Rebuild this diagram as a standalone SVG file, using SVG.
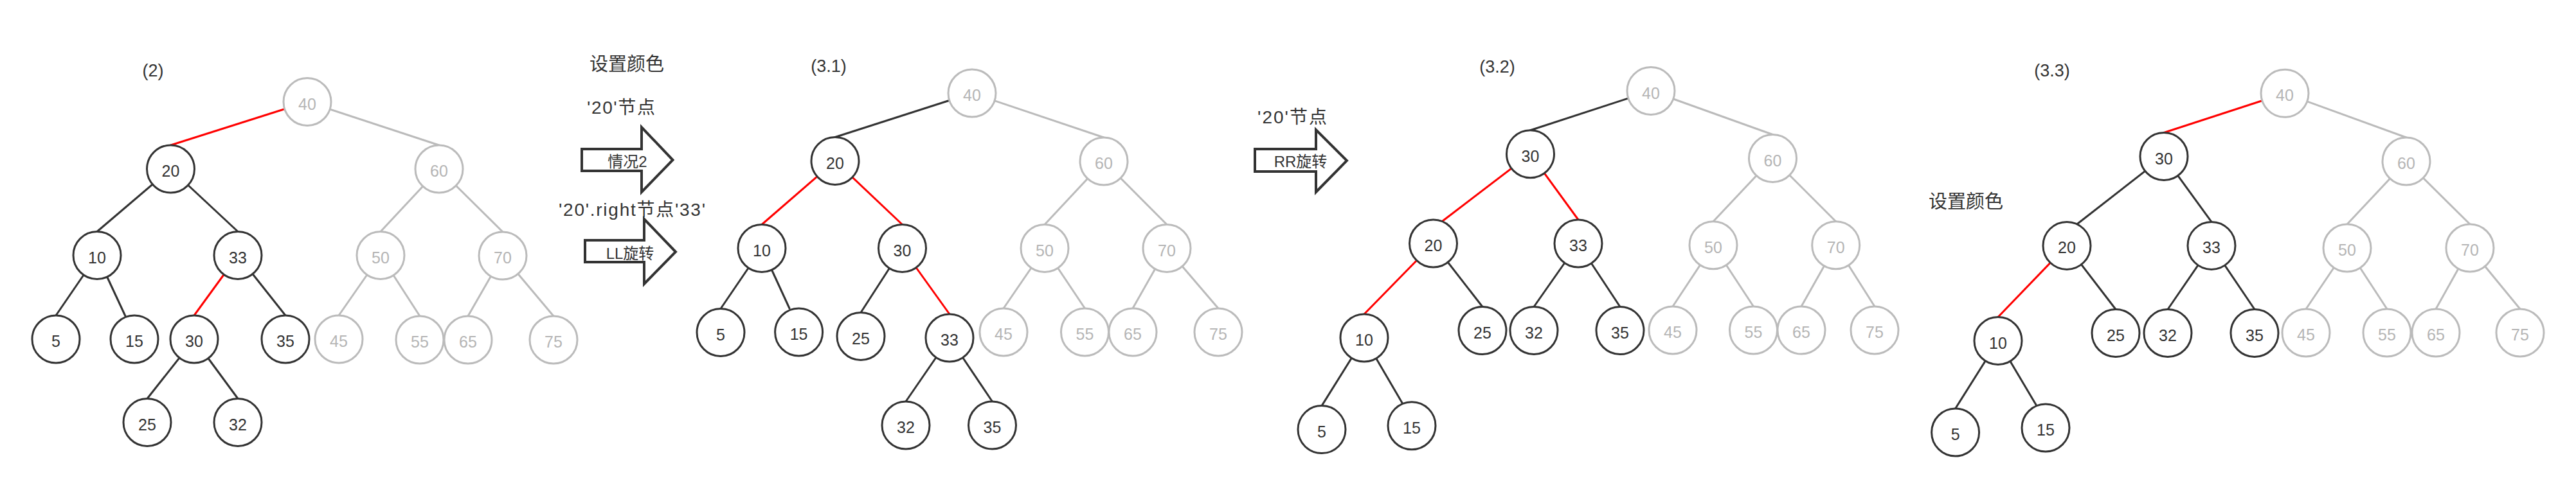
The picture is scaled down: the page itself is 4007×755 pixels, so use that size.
<svg xmlns="http://www.w3.org/2000/svg" width="4007" height="755" viewBox="0 0 4007 755">
<style>
.n circle{fill:#fff;stroke-width:3}
.d circle{stroke:#333}
.g circle{stroke:#bbb}
.n text{font-family:"Liberation Sans",Arial,sans-serif;font-size:25px;text-anchor:middle}
.d text{fill:#333}
.g text{fill:#b5b5b5}
#edges line{stroke-width:3;stroke-linecap:round}
.ed{stroke:#333}.eg{stroke:#bbb}.er{stroke:#f00}
.lbl{font-family:"Liberation Sans","Noto Sans CJK SC",sans-serif;fill:#333;text-anchor:middle}
.arrow{fill:#fff;stroke:#333;stroke-width:4;stroke-linejoin:miter}
</style>
<rect width="4007" height="755" fill="#fff"/>
<g id="arrows">
<polygon id="arrow-1" class="arrow" points="905,232 998,232 998,198 1046.5,249 998,299 998,266 905,266"/>
<polygon id="arrow-2" class="arrow" points="910,374 1002,374 1002,341 1051,392 1002,442 1002,408 910,408"/>
<polygon id="arrow-3" class="arrow" points="1952,232 2047,232 2047,202 2095,250 2047,299 2047,267 1952,267"/>
</g>
<g id="labels">
<text class="lbl" x="238" y="119" font-size="27">(2)</text>
<text class="lbl" x="1289" y="112" font-size="27">(3.1)</text>
<text class="lbl" x="2329" y="113" font-size="27">(3.2)</text>
<text class="lbl" x="3192" y="119" font-size="27">(3.3)</text>
<text class="lbl" x="975" y="110" font-size="29">设置颜色</text>
<text class="lbl" x="966" y="177" font-size="28" textLength="106" lengthAdjust="spacing">'20'节点</text>
<text class="lbl" x="976" y="260" font-size="24">情况2</text>
<text class="lbl" x="983" y="336" font-size="28" textLength="228" lengthAdjust="spacing">'20'.right节点'33'</text>
<text class="lbl" x="980" y="403" font-size="24">LL旋转</text>
<text class="lbl" x="2010" y="192" font-size="28" textLength="108" lengthAdjust="spacing">'20'节点</text>
<text class="lbl" x="2023" y="260" font-size="24">RR旋转</text>
<text class="lbl" x="3058" y="324" font-size="29">设置颜色</text>
</g>
<g id="edges">
<!-- tree (2) -->
<line class="er" x1="478" y1="158.5" x2="265.5" y2="226"/>
<line class="eg" x1="478" y1="158.5" x2="683" y2="226"/>
<line class="ed" x1="265.5" y1="263" x2="151" y2="360.5"/>
<line class="ed" x1="265.5" y1="263" x2="370" y2="360.5"/>
<line class="ed" x1="151" y1="397.5" x2="87" y2="491"/>
<line class="ed" x1="151" y1="397.5" x2="195" y2="492"/>
<line class="er" x1="370" y1="397.5" x2="302" y2="491"/>
<line class="ed" x1="370" y1="397.5" x2="444" y2="491"/>
<line class="ed" x1="302" y1="528" x2="229" y2="620.5"/>
<line class="ed" x1="302" y1="528" x2="370" y2="620.5"/>
<line class="eg" x1="683" y1="263" x2="592" y2="360.5"/>
<line class="eg" x1="683" y1="263" x2="782" y2="361"/>
<line class="eg" x1="592" y1="397.5" x2="527" y2="491"/>
<line class="eg" x1="592" y1="397.5" x2="653" y2="492"/>
<line class="eg" x1="782" y1="398" x2="728" y2="492"/>
<line class="eg" x1="782" y1="398" x2="861" y2="492"/>
<!-- tree (3.1) -->
<line class="ed" x1="1512" y1="145" x2="1299" y2="213.5"/>
<line class="eg" x1="1512" y1="145" x2="1717" y2="214"/>
<line class="er" x1="1299" y1="250.5" x2="1185" y2="349.5"/>
<line class="er" x1="1299" y1="250.5" x2="1403.5" y2="349.5"/>
<line class="ed" x1="1185" y1="386.5" x2="1121" y2="480.5"/>
<line class="ed" x1="1185" y1="386.5" x2="1228" y2="480"/>
<line class="ed" x1="1403.5" y1="386.5" x2="1339" y2="486.5"/>
<line class="er" x1="1403.5" y1="386.5" x2="1477" y2="489"/>
<line class="ed" x1="1477" y1="526" x2="1409" y2="625"/>
<line class="ed" x1="1477" y1="526" x2="1543.5" y2="625"/>
<line class="eg" x1="1717" y1="251" x2="1625" y2="349.5"/>
<line class="eg" x1="1717" y1="251" x2="1815" y2="349.5"/>
<line class="eg" x1="1625" y1="386.5" x2="1561" y2="480"/>
<line class="eg" x1="1625" y1="386.5" x2="1687.5" y2="480"/>
<line class="eg" x1="1815" y1="386.5" x2="1762" y2="480"/>
<line class="eg" x1="1815" y1="386.5" x2="1895" y2="480"/>
<!-- tree (3.2) -->
<line class="ed" x1="2568" y1="141.5" x2="2380.5" y2="202.7"/>
<line class="eg" x1="2568" y1="141.5" x2="2757.5" y2="209.5"/>
<line class="er" x1="2380.5" y1="239.7" x2="2244" y2="344"/>
<line class="er" x1="2380.5" y1="239.7" x2="2455" y2="342"/>
<line class="er" x1="2229.5" y1="379" x2="2122" y2="489"/>
<line class="ed" x1="2229.5" y1="379" x2="2306" y2="477.5"/>
<line class="ed" x1="2455" y1="379" x2="2386" y2="477.5"/>
<line class="ed" x1="2455" y1="379" x2="2520" y2="477.5"/>
<line class="ed" x1="2122" y1="526" x2="2056" y2="631.6"/>
<line class="ed" x1="2122" y1="526" x2="2181" y2="627"/>
<line class="eg" x1="2757.5" y1="246.5" x2="2665" y2="344.7"/>
<line class="eg" x1="2757.5" y1="246.5" x2="2855.7" y2="344.7"/>
<line class="eg" x1="2665" y1="381.7" x2="2602" y2="477"/>
<line class="eg" x1="2665" y1="381.7" x2="2727.5" y2="477"/>
<line class="eg" x1="2855.7" y1="381.7" x2="2802" y2="477"/>
<line class="eg" x1="2855.7" y1="381.7" x2="2916" y2="477"/>
<!-- tree (3.3) -->
<line class="er" x1="3554" y1="145.3" x2="3366" y2="206.5"/>
<line class="eg" x1="3554" y1="145.3" x2="3743" y2="214"/>
<line class="ed" x1="3366" y1="243.5" x2="3232" y2="348"/>
<line class="ed" x1="3366" y1="243.5" x2="3440" y2="345.4"/>
<line class="er" x1="3215" y1="382.4" x2="3108" y2="493.5"/>
<line class="ed" x1="3215" y1="382.4" x2="3291" y2="481.5"/>
<line class="ed" x1="3440" y1="382.4" x2="3372" y2="481.5"/>
<line class="ed" x1="3440" y1="382.4" x2="3507" y2="481.5"/>
<line class="ed" x1="3108" y1="530.5" x2="3041.6" y2="636"/>
<line class="ed" x1="3108" y1="530.5" x2="3167" y2="630"/>
<line class="eg" x1="3743" y1="251" x2="3651" y2="349"/>
<line class="eg" x1="3743" y1="251" x2="3842" y2="349"/>
<line class="eg" x1="3651" y1="386" x2="3587" y2="481"/>
<line class="eg" x1="3651" y1="386" x2="3713" y2="481"/>
<line class="eg" x1="3842" y1="386" x2="3789" y2="481"/>
<line class="eg" x1="3842" y1="386" x2="3920" y2="481"/>
</g>
<!-- tree (2) nodes -->
<g id="t2-40" class="n g"><circle cx="478" cy="158.5" r="37"/><text x="478" y="170.5">40</text></g>
<g id="t2-20" class="n d"><circle cx="265.5" cy="263" r="37"/><text x="265.5" y="275">20</text></g>
<g id="t2-60" class="n g"><circle cx="683" cy="263" r="37"/><text x="683" y="275">60</text></g>
<g id="t2-10" class="n d"><circle cx="151" cy="397.5" r="37"/><text x="151" y="409.5">10</text></g>
<g id="t2-33" class="n d"><circle cx="370" cy="397.5" r="37"/><text x="370" y="409.5">33</text></g>
<g id="t2-50" class="n g"><circle cx="592" cy="397.5" r="37"/><text x="592" y="409.5">50</text></g>
<g id="t2-70" class="n g"><circle cx="782" cy="398" r="37"/><text x="782" y="410">70</text></g>
<g id="t2-5" class="n d"><circle cx="87" cy="528" r="37"/><text x="87" y="540">5</text></g>
<g id="t2-15" class="n d"><circle cx="209" cy="528" r="37"/><text x="209" y="540">15</text></g>
<g id="t2-30" class="n d"><circle cx="302" cy="528" r="37"/><text x="302" y="540">30</text></g>
<g id="t2-35" class="n d"><circle cx="444" cy="528" r="37"/><text x="444" y="540">35</text></g>
<g id="t2-45" class="n g"><circle cx="527" cy="528" r="37"/><text x="527" y="540">45</text></g>
<g id="t2-55" class="n g"><circle cx="653" cy="529" r="37"/><text x="653" y="541">55</text></g>
<g id="t2-65" class="n g"><circle cx="728" cy="529" r="37"/><text x="728" y="541">65</text></g>
<g id="t2-75" class="n g"><circle cx="861" cy="529" r="37"/><text x="861" y="541">75</text></g>
<g id="t2-25" class="n d"><circle cx="229" cy="657.5" r="37"/><text x="229" y="669.5">25</text></g>
<g id="t2-32" class="n d"><circle cx="370" cy="657.5" r="37"/><text x="370" y="669.5">32</text></g>
<!-- tree (3.1) nodes -->
<g id="t31-40" class="n g"><circle cx="1512" cy="145" r="37"/><text x="1512" y="157">40</text></g>
<g id="t31-20" class="n d"><circle cx="1299" cy="250.5" r="37"/><text x="1299" y="262.5">20</text></g>
<g id="t31-60" class="n g"><circle cx="1717" cy="251" r="37"/><text x="1717" y="263">60</text></g>
<g id="t31-10" class="n d"><circle cx="1185" cy="386.5" r="37"/><text x="1185" y="398.5">10</text></g>
<g id="t31-30" class="n d"><circle cx="1403.5" cy="386.5" r="37"/><text x="1403.5" y="398.5">30</text></g>
<g id="t31-50" class="n g"><circle cx="1625" cy="386.5" r="37"/><text x="1625" y="398.5">50</text></g>
<g id="t31-70" class="n g"><circle cx="1815" cy="386.5" r="37"/><text x="1815" y="398.5">70</text></g>
<g id="t31-5" class="n d"><circle cx="1121" cy="517.5" r="37"/><text x="1121" y="529.5">5</text></g>
<g id="t31-15" class="n d"><circle cx="1242.6" cy="517" r="37"/><text x="1242.6" y="529">15</text></g>
<g id="t31-25" class="n d"><circle cx="1339" cy="523.5" r="37"/><text x="1339" y="535.5">25</text></g>
<g id="t31-33" class="n d"><circle cx="1477" cy="526" r="37"/><text x="1477" y="538">33</text></g>
<g id="t31-45" class="n g"><circle cx="1561" cy="517" r="37"/><text x="1561" y="529">45</text></g>
<g id="t31-55" class="n g"><circle cx="1687.5" cy="517" r="37"/><text x="1687.5" y="529">55</text></g>
<g id="t31-65" class="n g"><circle cx="1762" cy="517" r="37"/><text x="1762" y="529">65</text></g>
<g id="t31-75" class="n g"><circle cx="1895" cy="517" r="37"/><text x="1895" y="529">75</text></g>
<g id="t31-32" class="n d"><circle cx="1409" cy="662" r="37"/><text x="1409" y="674">32</text></g>
<g id="t31-35" class="n d"><circle cx="1543.5" cy="662" r="37"/><text x="1543.5" y="674">35</text></g>
<!-- tree (3.2) nodes -->
<g id="t32-40" class="n g"><circle cx="2568" cy="141.5" r="37"/><text x="2568" y="153.5">40</text></g>
<g id="t32-30" class="n d"><circle cx="2380.5" cy="239.7" r="37"/><text x="2380.5" y="251.7">30</text></g>
<g id="t32-60" class="n g"><circle cx="2757.5" cy="246.5" r="37"/><text x="2757.5" y="258.5">60</text></g>
<g id="t32-20" class="n d"><circle cx="2229.5" cy="379" r="37"/><text x="2229.5" y="391">20</text></g>
<g id="t32-33" class="n d"><circle cx="2455" cy="379" r="37"/><text x="2455" y="391">33</text></g>
<g id="t32-50" class="n g"><circle cx="2665" cy="381.7" r="37"/><text x="2665" y="393.7">50</text></g>
<g id="t32-70" class="n g"><circle cx="2855.7" cy="381.7" r="37"/><text x="2855.7" y="393.7">70</text></g>
<g id="t32-10" class="n d"><circle cx="2122" cy="526" r="37"/><text x="2122" y="538">10</text></g>
<g id="t32-25" class="n d"><circle cx="2306" cy="514.5" r="37"/><text x="2306" y="526.5">25</text></g>
<g id="t32-32" class="n d"><circle cx="2386" cy="514.5" r="37"/><text x="2386" y="526.5">32</text></g>
<g id="t32-35" class="n d"><circle cx="2520" cy="514.5" r="37"/><text x="2520" y="526.5">35</text></g>
<g id="t32-45" class="n g"><circle cx="2602" cy="514" r="37"/><text x="2602" y="526">45</text></g>
<g id="t32-55" class="n g"><circle cx="2727.5" cy="514" r="37"/><text x="2727.5" y="526">55</text></g>
<g id="t32-65" class="n g"><circle cx="2802" cy="514" r="37"/><text x="2802" y="526">65</text></g>
<g id="t32-75" class="n g"><circle cx="2916" cy="514" r="37"/><text x="2916" y="526">75</text></g>
<g id="t32-5" class="n d"><circle cx="2056" cy="668.6" r="37"/><text x="2056" y="680.6">5</text></g>
<g id="t32-15" class="n d"><circle cx="2196" cy="662.7" r="37"/><text x="2196" y="674.7">15</text></g>
<!-- tree (3.3) nodes -->
<g id="t33-40" class="n g"><circle cx="3554" cy="145.3" r="37"/><text x="3554" y="157.3">40</text></g>
<g id="t33-30" class="n d"><circle cx="3366" cy="243.5" r="37"/><text x="3366" y="255.5">30</text></g>
<g id="t33-60" class="n g"><circle cx="3743" cy="251" r="37"/><text x="3743" y="263">60</text></g>
<g id="t33-20" class="n d"><circle cx="3215" cy="382.4" r="37"/><text x="3215" y="394.4">20</text></g>
<g id="t33-33" class="n d"><circle cx="3440" cy="382.4" r="37"/><text x="3440" y="394.4">33</text></g>
<g id="t33-50" class="n g"><circle cx="3651" cy="386" r="37"/><text x="3651" y="398">50</text></g>
<g id="t33-70" class="n g"><circle cx="3842" cy="386" r="37"/><text x="3842" y="398">70</text></g>
<g id="t33-10" class="n d"><circle cx="3108" cy="530.5" r="37"/><text x="3108" y="542.5">10</text></g>
<g id="t33-25" class="n d"><circle cx="3291" cy="518.5" r="37"/><text x="3291" y="530.5">25</text></g>
<g id="t33-32" class="n d"><circle cx="3372" cy="518.5" r="37"/><text x="3372" y="530.5">32</text></g>
<g id="t33-35" class="n d"><circle cx="3507" cy="518.5" r="37"/><text x="3507" y="530.5">35</text></g>
<g id="t33-45" class="n g"><circle cx="3587" cy="518" r="37"/><text x="3587" y="530">45</text></g>
<g id="t33-55" class="n g"><circle cx="3713" cy="518" r="37"/><text x="3713" y="530">55</text></g>
<g id="t33-65" class="n g"><circle cx="3789" cy="518" r="37"/><text x="3789" y="530">65</text></g>
<g id="t33-75" class="n g"><circle cx="3920" cy="518" r="37"/><text x="3920" y="530">75</text></g>
<g id="t33-5" class="n d"><circle cx="3041.6" cy="673" r="37"/><text x="3041.6" y="685">5</text></g>
<g id="t33-15" class="n d"><circle cx="3182" cy="666" r="37"/><text x="3182" y="678">15</text></g>
</svg>
